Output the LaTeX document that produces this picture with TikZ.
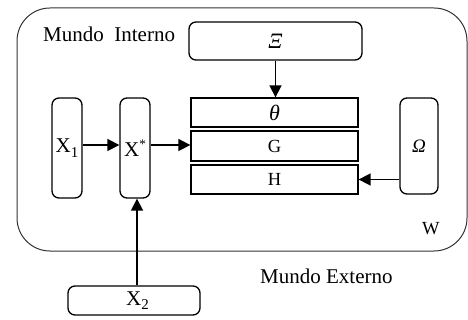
\documentclass[tikz,border=0pt]{standalone}
\usepackage{fontspec}
\setmainfont{Liberation Serif}
\usetikzlibrary{arrows.meta}
% lowered index and raised mark used in the variable names
\newcommand{\lowidx}[1]{\raisebox{-4.5pt}{\fontsize{15}{18}\selectfont #1}}
\newcommand{\highmark}[1]{\raisebox{8pt}{\fontsize{13}{16}\selectfont #1}}
\tikzset{
  box/.style={draw, line width=1.3pt, inner sep=0pt, font=\fontsize{18.5}{22}\selectfont},
  rbox/.style={box, rounded corners=7pt},
  varname/.style={font=\fontsize{21}{25}\selectfont},
  arr/.style={line width=1.6pt, -{Triangle[length=12pt,width=12pt]}},
  lbl/.style={inner sep=0pt, anchor=base west, font=\fontsize{21}{25}\selectfont},
}
\begin{document}
\begin{tikzpicture}[x=1pt,y=-1pt]
\useasboundingbox (0,0) rectangle (468,320);
% inner world frame
\draw[line width=1pt, black!80, rounded corners=33pt] (17,8) rectangle (467,251);
\node[lbl] (mi) at (43,42) {Mundo\ \ Interno};
\node[lbl, font=\fontsize{18.5}{22}\selectfont] (w) at (422,234) {W};
\node[lbl] (me) at (260,283) {Mundo Externo};
% boxes
\node[rbox, minimum width=173pt, minimum height=38pt, font=\fontsize{22}{26}\selectfont] (xi) at (275.5,41) {\raisebox{-1pt}{\itshape Ξ}};
\node[box, minimum width=167pt, minimum height=29pt, font=\fontsize{22}{26}\selectfont] (th) at (274.5,112.5) {\raisebox{-1.5pt}{\itshape θ}};
\node[box, minimum width=167pt, minimum height=30pt] (g) at (274.5,146) {G};
\node[box, minimum width=167pt, minimum height=29pt] (h) at (274.5,179.5) {H};
\node[rbox, minimum width=38pt, minimum height=96pt, font=\fontsize{19}{23}\selectfont] (om) at (419,146) {\itshape Ω};
\node[rbox, varname, minimum width=30pt, minimum height=100pt] (x1) at (67,148) {\raisebox{-2pt}{X\lowidx{1}}};
\node[rbox, varname, minimum width=30pt, minimum height=100pt] (xs) at (135,148) {\raisebox{-2pt}{X\highmark{*}}};
\node[rbox, varname, minimum width=132pt, minimum height=29pt] (x2) at (134,300.5) {\hspace{7pt}X\lowidx{2}};
% connectors
\draw[arr] ([yshift=3pt]x1.east) -- ([yshift=3pt]xs.west);
\draw[arr] ([yshift=3pt]xs.east) -- ([yshift=3pt]xs.east -| g.west);
\draw[arr] (xi.south) -- (xi.south |- th.north);
\draw[arr] (h.east -| om.west) -- (h.east);
\draw[arr] ([xshift=2pt]xs.south |- x2.north) -- ([xshift=2pt]xs.south);
\end{tikzpicture}
\end{document}
